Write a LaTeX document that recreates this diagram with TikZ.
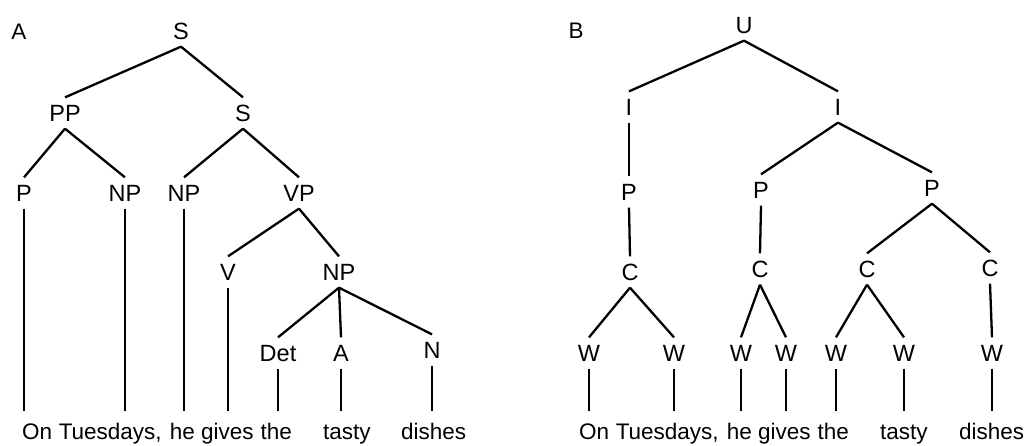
\documentclass[tikz,border=0pt]{standalone}
\usepackage{fontspec}
\setmainfont{Liberation Sans}
\usetikzlibrary{positioning}

\begin{document}
\begin{tikzpicture}[x=1pt, y=-1pt, line width=2.3pt,
  every node/.style={font=\fontsize{22.5}{27}\selectfont},
  cat/.style={font=\fontsize{23.5}{28}\selectfont, inner xsep=2pt, inner ysep=6.5pt, text height=16pt, text depth=0pt},
  word/.style={anchor=base west, inner xsep=0pt, inner ysep=0pt, text height=27pt, text depth=5pt}]
  \useasboundingbox (0,0) rectangle (1027,445);
  % ---- tree A: phrase structure
  \node (lblA) at (19,32) {A};
  \node[cat] (sA)   at (181,31)  {S};
  \node[cat] (ppA)  at (65,113)  {PP};
  \node[cat] (sB)   at (243,113) {S};
  \node[cat] (pA)   at (24,193)  {P};
  \node[cat] (npA)  at (125,193) {NP};
  \node[cat] (npB)  at (184,193) {NP};
  \node[cat] (vpA)  at (299,193) {VP};
  \node[cat] (vA)   at (228,272) {V};
  \node[cat] (npC)  at (339,272) {NP};
  \node[cat] (detA) at (278,353) {Det};
  \node[cat] (aA)   at (341,353) {A};
  \node[cat] (nA)   at (432,350) {N};
  % words A
  \node[word] (aOn)     at (21,439)    {On};
  \node[word] (aTue)    at (57.6,439)  {Tuesdays,};
  \node[word] (aHe)     at (168.6,439) {he};
  \node[word] (aGives)  at (200,439)   {gives};
  \node[word] (aThe)    at (259.5,439) {the};
  \node[word] (aTasty)  at (322,439)   {tasty};
  \node[word] (aDishes) at (400,439)   {dishes};
  \foreach \a/\b in {sA/ppA, sA/sB, ppA/pA, ppA/npA, sB/npB, sB/vpA,
                     vpA/vA, vpA/npC, npC/detA, npC/aA, npC/nA}
    \draw (\a.south) -- (\b.north);
  \foreach \a/\b in {pA/aOn, npA/aTue, npB/aHe, vA/aGives, detA/aThe, aA/aTasty, nA/aDishes}
    \draw (\a.south) -- (\a.south |- \b.north);

  % ---- tree B: prosodic structure
  \node (lblB) at (576,31) {B};
  \node[cat] (uB)  at (744,25)  {U};
  \node[cat] (iA)  at (629,107) {I};
  \node[cat] (iB)  at (838,107) {I};
  \node[cat] (pB1) at (629,192) {P};
  \node[cat] (pB2) at (761,190) {P};
  \node[cat] (pB3) at (932,188) {P};
  \node[cat] (cB1) at (630,272) {C};
  \node[cat] (cB2) at (760,269) {C};
  \node[cat] (cB3) at (867,269) {C};
  \node[cat] (cB4) at (990,268) {C};
  \node[cat] (wB1) at (589,353) {W};
  \node[cat] (wB2) at (674,353) {W};
  \node[cat] (wB3) at (741,353) {W};
  \node[cat] (wB4) at (786,353) {W};
  \node[cat] (wB5) at (836,353) {W};
  \node[cat] (wB6) at (904,353) {W};
  \node[cat] (wB7) at (992,353) {W};
  % words B
  \node[word] (bOn)     at (578,439)   {On};
  \node[word] (bTue)    at (614.6,439) {Tuesdays,};
  \node[word] (bHe)     at (725.6,439) {he};
  \node[word] (bGives)  at (757,439)   {gives};
  \node[word] (bThe)    at (816.5,439) {the};
  \node[word] (bTasty)  at (879,439)   {tasty};
  \node[word] (bDishes) at (958,439)   {dishes};
  \foreach \a/\b in {uB/iA, uB/iB, iA/pB1, iB/pB2, iB/pB3, pB1/cB1, pB2/cB2,
                     pB3/cB3, pB3/cB4, cB1/wB1, cB1/wB2, cB2/wB3, cB2/wB4,
                     cB3/wB5, cB3/wB6, cB4/wB7}
    \draw (\a.south) -- (\b.north);
  \foreach \a/\b in {wB1/bOn, wB2/bTue, wB3/bHe, wB4/bGives, wB5/bThe, wB6/bTasty, wB7/bDishes}
    \draw (\a.south) -- (\a.south |- \b.north);
\end{tikzpicture}
\end{document}
